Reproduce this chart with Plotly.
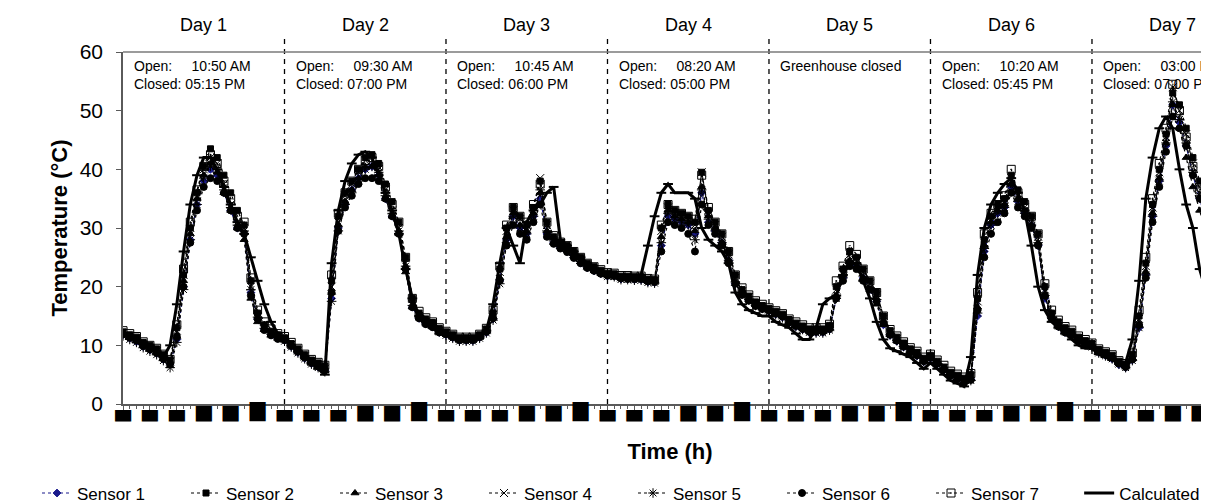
import plotly.graph_objects as go

# ---------------- data (hourly readings, hour 0 = start of Day 1) ----------------
hours = list(range(163))

sensor_1 = [11.8, 11.2, 10.6, 9.8, 9.2, 8.6, 7.6, 6.8, 11, 20, 28, 34, 38, 40, 39, 36, 33, 30, 29, 19, 14.5, 12.8, 11.8, 11.2,
            10.8, 9.8, 8.8, 7.8, 6.9, 6.3, 5.7, 18, 30, 34, 36.5, 38.5, 40, 40.5, 39, 35, 32, 29, 23, 16.5, 14.6, 13.7, 13.1, 12.2,
            11.8, 11.3, 10.8, 10.8, 10.8, 11.3, 12.2, 14.5, 21, 28, 32, 30, 29, 32, 35, 29, 27.5, 26.7, 26, 25, 24, 23.2, 22.7, 22.2,
            21.8, 21.8, 21.3, 21.3, 21.2, 21.2, 20.8, 20.7, 27, 32, 31.5, 31, 30.5, 29, 36, 31, 29.5, 27.5, 24.5, 20.5, 18.7, 17.7, 16.8, 16.2,
            15.8, 15.3, 14.8, 13.8, 13.2, 12.7, 12.2, 12.2, 12.2, 12.7, 18, 21.5, 24, 23.5, 21.5, 19.5, 17.5, 13.5, 11.7, 10.7, 9.7, 8.8, 8.2, 7.2,
            7.8, 6.8, 5.8, 4.8, 4.2, 3.7, 4.2, 15, 26, 30.5, 32.5, 33.5, 37, 34.5, 32.5, 30.5, 27, 18, 14.7, 13.2, 12.2, 11.7, 10.7, 10.2,
            9.8, 8.8, 8.3, 7.7, 6.7, 6.2, 7.5, 13, 22, 32, 38, 44, 51, 48, 44, 39, 35, 31, 26]

sensor_2 = [12.3, 11.8, 11.4, 10.5, 10, 9.4, 8.4, 7.5, 13, 22, 30, 36, 40.5, 43.5, 42, 39, 36, 33, 30.5, 21, 15.5, 13.5, 12.4, 11.8,
            11.3, 10.3, 9.4, 8.4, 7.5, 7, 6.5, 21, 32, 36, 38, 40, 42, 42.5, 41, 37.5, 34.5, 31, 25, 18, 15.5, 14.5, 13.9, 12.9,
            12.3, 11.8, 11.3, 11.3, 11.3, 11.8, 12.8, 15.5, 23, 30, 33.5, 32, 30.5, 33.5, 38, 31, 28.5, 27.5, 27, 26, 25, 24, 23.4, 22.8,
            22.3, 22.2, 21.8, 21.8, 21.7, 21.7, 21.3, 21.2, 30, 34, 33, 32.5, 32, 31, 39.5, 33, 31, 29, 26, 22, 19.5, 18.4, 17.4, 16.8,
            16.3, 15.8, 15.3, 14.4, 13.8, 13.3, 12.8, 12.8, 12.8, 13.4, 20, 23, 26, 25, 23, 21, 19, 15, 12.5, 11.4, 10.4, 9.4, 8.8, 7.8,
            8.3, 7.3, 6.3, 5.4, 4.9, 4.4, 5, 18, 28, 32, 34, 35, 39, 36.5, 34.5, 32, 29, 20, 15.5, 14, 13, 12.4, 11.4, 10.8,
            10.3, 9.3, 8.8, 8.3, 7.3, 6.8, 8.5, 15, 24, 34, 40, 46, 53, 51, 47, 42, 38, 34, 29]

sensor_3 = [12, 11.4, 10.8, 10, 9.4, 8.8, 7.8, 6.5, 11.5, 21, 29, 35, 39, 41, 39.5, 36, 33, 30, 28, 18, 14, 12.7, 11.8, 11.3,
            11, 10, 9, 8, 7, 6.3, 5.6, 19, 30.5, 34.5, 36.5, 38.5, 40.5, 40.5, 39, 35, 32, 29, 22.5, 16.5, 14.8, 13.8, 13.2, 12.3,
            12, 11.4, 10.9, 10.9, 10.9, 11.4, 12.4, 14.8, 21.5, 28.5, 32.5, 30.5, 29.5, 32.5, 36, 29.5, 27.5, 26.8, 26.2, 25.2, 24.2, 23.3, 22.8, 22.3,
            22, 21.9, 21.5, 21.4, 21.4, 21.4, 21, 20.9, 28.5, 33, 32, 31.5, 31, 29.5, 37, 32, 30, 27.5, 24.5, 20.5, 18.8, 17.8, 16.9, 16.4,
            16, 15.5, 15, 14, 13.4, 12.9, 12.4, 12.4, 12.4, 12.9, 18.5, 22, 24.5, 23.5, 21.5, 19.5, 17, 13.5, 11.8, 10.8, 9.8, 8.9, 8.4, 7.4,
            8, 7, 6, 5, 4.4, 3.8, 4.3, 16.5, 27, 31, 33, 34, 37.5, 35, 33, 30.5, 27.5, 18.5, 14.8, 13.3, 12.3, 11.8, 10.8, 10.3,
            10, 9, 8.5, 8, 7, 6.4, 7.8, 13.5, 22.5, 32.5, 38.5, 44.5, 51, 47, 42, 37, 33, 29, 24]

sensor_4 = [12.2, 11.6, 11, 10.2, 9.6, 9, 8, 7.2, 12.5, 22, 30, 35.5, 40, 42, 41, 37.5, 34, 31, 30, 20, 15, 13, 12, 11.5,
            11.1, 10.1, 9.1, 8.1, 7.2, 6.6, 6, 20, 31, 35.5, 37.5, 39.5, 41.5, 41.5, 40, 36.5, 33, 30, 24, 17, 15, 14, 13.5, 12.5,
            12.1, 11.6, 11.1, 11.1, 11.1, 11.6, 12.6, 15.2, 22.5, 29.5, 33, 31.5, 30.5, 33.5, 38.5, 30.5, 28, 27.2, 26.6, 25.6, 24.6, 23.6, 23, 22.5,
            22.1, 22, 21.6, 21.6, 21.5, 21.5, 21.1, 21, 29.5, 33.5, 32.5, 32, 31.5, 30.5, 39.5, 32.5, 30.5, 28.5, 25.5, 21.5, 19.2, 18.2, 17.2, 16.6,
            16.1, 15.6, 15.1, 14.1, 13.6, 13.1, 12.6, 12.6, 12.6, 13.1, 19.5, 22.5, 25.5, 24.5, 22.5, 20.5, 18.5, 14.5, 12.2, 11.1, 10.1, 9.1, 8.6, 7.6,
            8.1, 7.1, 6.1, 5.1, 4.6, 4.1, 4.7, 17.5, 27.5, 31.5, 33.5, 34.5, 38.5, 35.5, 33.5, 31.5, 28.5, 19.5, 15.2, 13.7, 12.6, 12.1, 11.1, 10.6,
            10.1, 9.1, 8.6, 8.1, 7.1, 6.6, 8.2, 14.5, 23.5, 33.5, 39.5, 45.5, 54, 50, 46, 41, 37, 33, 28]

sensor_5 = [11.6, 11, 10.5, 9.6, 9, 8.4, 7.4, 6.2, 10.5, 19.5, 28, 34, 38.5, 40.5, 39.5, 36.5, 33.5, 30.5, 29.5, 19.5, 14.8, 12.9, 11.9, 11.4,
            10.7, 9.7, 8.7, 7.7, 6.8, 6.2, 5.5, 17.5, 29.5, 34, 36, 38, 40, 40.5, 39.5, 35.5, 32.5, 29.5, 23.5, 16.8, 14.8, 13.8, 13.3, 12.3,
            11.7, 11.2, 10.7, 10.7, 10.7, 11.2, 12.1, 14.3, 20.5, 27.5, 32, 30, 29, 32, 36.5, 29.5, 27.8, 26.9, 26.3, 25.3, 24.3, 23.4, 22.9, 22.4,
            21.7, 21.7, 21.2, 21.2, 21.1, 21.1, 20.7, 20.6, 27.5, 32.5, 31.5, 31, 30.5, 28, 36.5, 31.5, 29.5, 27.5, 24.5, 20.8, 18.8, 17.8, 16.8, 16.3,
            15.7, 15.2, 14.7, 13.7, 13.2, 12.7, 12.2, 12.1, 12.1, 12.6, 18, 21.5, 24.5, 23.8, 21.8, 19.8, 17.8, 14, 11.8, 10.8, 9.8, 8.8, 8.3, 7.3,
            7.7, 6.7, 5.7, 4.7, 4.1, 3.5, 4, 15.5, 26.5, 30.5, 32.5, 33.5, 37.5, 34.5, 32.5, 30.5, 27.5, 18.5, 14.8, 13.3, 12.3, 11.8, 10.8, 10.3,
            9.7, 8.7, 8.2, 7.7, 6.8, 6.2, 7.4, 13, 22, 32, 38, 44.5, 51.5, 48.5, 44.5, 39.5, 35.5, 31.5, 26.5]

sensor_6 = [11.9, 11.3, 10.8, 9.9, 9.3, 8.7, 7.7, 6.9, 11.5, 20, 27.5, 33, 37, 38.5, 38, 36, 33, 30, 29, 18.5, 14.5, 12.6, 11.7, 11.1,
            10.9, 9.9, 8.9, 7.9, 7, 6.4, 5.8, 19, 29.5, 33.5, 35.5, 37.5, 38.5, 38.5, 38, 35, 32, 29, 23, 16.5, 14.6, 13.6, 13.1, 12.2,
            11.9, 11.4, 10.9, 10.9, 10.9, 11.4, 12.3, 14.6, 21, 27, 30.5, 29, 28, 31, 34, 28.5, 27.3, 26.5, 25.9, 24.9, 24, 23.2, 22.7, 22.2,
            21.9, 21.8, 21.4, 21.3, 21.3, 21.3, 20.9, 20.8, 26, 31, 30.5, 30, 29, 26, 34, 30.5, 29, 27, 24, 20.5, 18.6, 17.6, 16.7, 16.2,
            15.9, 15.4, 14.9, 13.9, 13.3, 12.8, 12.3, 12.3, 12.3, 12.8, 18, 21, 23.5, 23, 21, 19.5, 17.5, 13.8, 11.8, 10.8, 9.8, 8.8, 8.3, 7.3,
            7.9, 6.9, 5.9, 4.9, 4.3, 3.6, 4.1, 16, 25, 29, 31, 32.5, 36, 33.5, 32, 30, 27, 18.5, 14.6, 13.2, 12.2, 11.7, 10.7, 10.2,
            9.9, 8.9, 8.4, 7.9, 6.9, 6.3, 7.6, 13.5, 21.5, 31, 37, 43, 49, 47, 44, 39, 35, 31, 26]

sensor_7 = [12.5, 12, 11.5, 10.6, 10, 9.5, 8.5, 7.6, 13.5, 23, 31, 36.5, 40.5, 42.5, 41, 38, 35, 32, 31, 21.5, 16, 14, 12.8, 12,
            11.5, 10.5, 9.5, 8.5, 7.6, 7.1, 6.6, 22, 32.5, 36, 38, 40, 41.5, 42, 40.5, 37, 34, 31, 25, 18, 15.8, 14.7, 14, 13,
            12.4, 11.9, 11.4, 11.4, 11.4, 11.9, 12.9, 16, 23.5, 30.5, 33.5, 32, 31, 34, 37.5, 31, 28.7, 27.6, 27, 26, 25, 24, 23.4, 22.9,
            22.4, 22.3, 21.9, 21.9, 21.8, 21.8, 21.4, 21.3, 30.5, 34, 33, 32.5, 32, 31.5, 39, 33.5, 31, 29, 26, 22, 19.8, 18.6, 17.6, 17,
            16.4, 15.9, 15.4, 14.5, 14, 13.5, 13, 13, 13, 13.6, 21, 23.5, 27, 25.5, 23, 21, 19, 15, 12.7, 11.6, 10.6, 9.6, 9, 8,
            8.5, 7.5, 6.6, 5.6, 5.1, 4.6, 5.2, 19, 29, 32.5, 34, 35.5, 40, 36, 34, 32, 29, 20.5, 16, 14.3, 13.2, 12.6, 11.6, 11,
            10.4, 9.4, 8.9, 8.4, 7.4, 6.9, 8.7, 16, 25, 35, 41, 47, 54.5, 50, 45.5, 40.5, 36.5, 32.5, 27.5]

calculated = [12, 11.5, 11, 10.5, 10, 9, 8, 10, 17, 26, 34, 39, 42, 42, 40, 37, 34, 31, 29, 25, 21, 17, 14, 12,
              11, 10, 9, 8, 7, 6, 5, 24, 33, 38, 41, 42.5, 43, 42, 39, 36, 33, 29, 23, 18, 15, 14, 13, 12,
              12, 11.5, 11, 11, 11, 11.5, 12.5, 17, 24, 30, 27, 24, 31, 33, 34, 36, 37, 28, 27, 26, 25, 24, 23, 22.5,
              22, 22, 21.5, 21.5, 21.5, 22, 27, 32, 36, 37.5, 36, 36, 36, 35, 30, 28, 27, 26, 24, 19, 17, 16, 15.5, 15,
              15, 14, 13.5, 13, 12, 11, 11, 13, 17, 18, 18.5, 22, 24, 24, 21, 18, 14, 11, 9.5, 9, 8.5, 8, 7, 6,
              7, 6, 5, 4, 3.5, 3, 8, 22, 30, 34, 36, 37.5, 38.5, 36, 33, 27, 20, 16, 14, 13, 12, 11, 10, 9.5,
              9.5, 8.5, 8, 7.5, 7, 7, 11, 21, 35, 42, 47, 49, 47, 40, 34, 30, 23, 19, 15]

day_labels = ["Day 1", "Day 2", "Day 3", "Day 4", "Day 5", "Day 6", "Day 7"]
day_starts = [0, 24, 48, 72, 96, 120, 144]
day_bounds = [24, 48, 72, 96, 120, 144]
day_notes = [
    ("10:50 AM", "05:15 PM"),
    ("09:30 AM", "07:00 PM"),
    ("10:45 AM", "06:00 PM"),
    ("08:20 AM", "05:00 PM"),
    None,
    ("10:20 AM", "05:45 PM"),
    ("03:00 PM", "07:00 PM"),
]
closed_note = "Greenhouse closed"

tick_hours = list(range(0, 161, 4))
tick_glyphs = ["▃", "▃", "▃", "▄", "▄", "▅"]   # the axis' hour labels print as blocks

# --------------------------------------------------------------------------------
NB = "\u00a0"
fig = go.Figure()

sensor_styles = [
    ("Sensor 1", sensor_1, "diamond", 6, "#1a1a8c", "legend"),
    ("Sensor 2", sensor_2, "square", 6, "black", "legend"),
    ("Sensor 3", sensor_3, "triangle-up", 7, "black", "legend"),
    ("Sensor 4", sensor_4, "x-thin-open", 8, "black", "legend"),
    ("Sensor 5", sensor_5, "asterisk-open", 8, "black", "legend2"),
    ("Sensor 6", sensor_6, "circle", 7, "black", "legend2"),
    ("Sensor 7", sensor_7, "square-open-dot", 8, "black", "legend2"),
]
for name, vals, sym, size, col, leg in sensor_styles:
    fig.add_trace(go.Scatter(
        x=hours, y=vals, name=name, mode="lines+markers", legend=leg,
        line=dict(color=col, width=1.2, dash="3px,3px"),
        marker=dict(symbol=sym, size=size, color=col,
                    line=dict(color=col, width=1)),
    ))

fig.add_trace(go.Scatter(
    x=hours, y=calculated, name="Calculated", mode="lines+markers", legend="legend3",
    line=dict(color="black", width=3),
    marker=dict(symbol="line-ew", size=7, color="black",
                line=dict(color="black", width=2)),
))

tick_text = [tick_glyphs[(h // 4) % 6] for h in tick_hours]

shapes = []
for b in day_bounds:
    shapes.append(dict(type="line", xref="x", yref="paper", x0=b, x1=b, y0=0, y1=1.045,
                       line=dict(color="black", width=1.3, dash="5px,5px"), layer="above"))
shapes.append(dict(type="line", xref="paper", yref="paper", x0=0, x1=1, y0=1, y1=1,
                   line=dict(color="#7a7a7a", width=1.5)))

annotations = []
for i, lab in enumerate(day_labels):
    annotations.append(dict(x=day_starts[i] + 12, y=1.077, xref="x", yref="paper",
                            text=lab, showarrow=False, font=dict(size=18, color="black"),
                            xanchor="center", yanchor="middle"))
    note = day_notes[i]
    if note is None:
        txt = closed_note
    else:
        txt = "Open:" + NB * 5 + note[0] + "<br>Closed:" + NB + note[1]
    annotations.append(dict(x=day_starts[i] + 1.4, y=0.99, xref="x", yref="paper",
                            text=txt, showarrow=False, align="left",
                            font=dict(size=14, color="black"),
                            xanchor="left", yanchor="top"))

# legend rows placed below the plot (paper coords: plot spans x 115..1209 px, y 396..44 px)
leg_common = dict(orientation="h", xref="paper", yref="paper",
                  y=-0.203, xanchor="left", yanchor="top",
                  font=dict(size=17), itemwidth=30, bgcolor="rgba(0,0,0,0)")

fig.update_layout(
    width=1209, height=504,
    margin=dict(l=115, r=0, t=44, b=108, autoexpand=False),
    paper_bgcolor="white", plot_bgcolor="white",
    font=dict(family="Liberation Sans, Arial, sans-serif", color="black"),
    showlegend=True,
    legend=dict(x=-0.0786, entrywidth=104, entrywidthmode="pixels", **leg_common),
    legend2=dict(x=0.4662, entrywidth=104, entrywidthmode="pixels", **leg_common),
    legend3=dict(x=0.874, **leg_common),
    shapes=shapes,
    annotations=annotations,
)

fig.update_xaxes(
    range=[0, 162.58], tickmode="array", tickvals=tick_hours, ticktext=tick_text,
    showline=True, linecolor="#5a5a5a", linewidth=1.5,
    ticks="outside", ticklen=4, tickcolor="#5a5a5a",
    minor=dict(dtick=1, ticks="outside", ticklen=3, tickcolor="#5a5a5a", tick0=0),
    showgrid=False, zeroline=False,
    tickfont=dict(size=26, color="black", family="DejaVu Sans Mono"),
    ticklabelstandoff=-26,
    title=dict(text="<b>Time (h)</b>", font=dict(size=22), standoff=23),
)
fig.update_yaxes(
    range=[0, 60], tickvals=[0, 10, 20, 30, 40, 50, 60],
    showline=True, linecolor="#5a5a5a", linewidth=1.5,
    ticks="outside", ticklen=5, tickcolor="#5a5a5a",
    showgrid=False, zeroline=False, tickfont=dict(size=21, color="black"),
    ticklabelstandoff=9,
    title=dict(text="<b>Temperature (°C)</b>", font=dict(size=22), standoff=6),
)

fig.write_html("out.html")
